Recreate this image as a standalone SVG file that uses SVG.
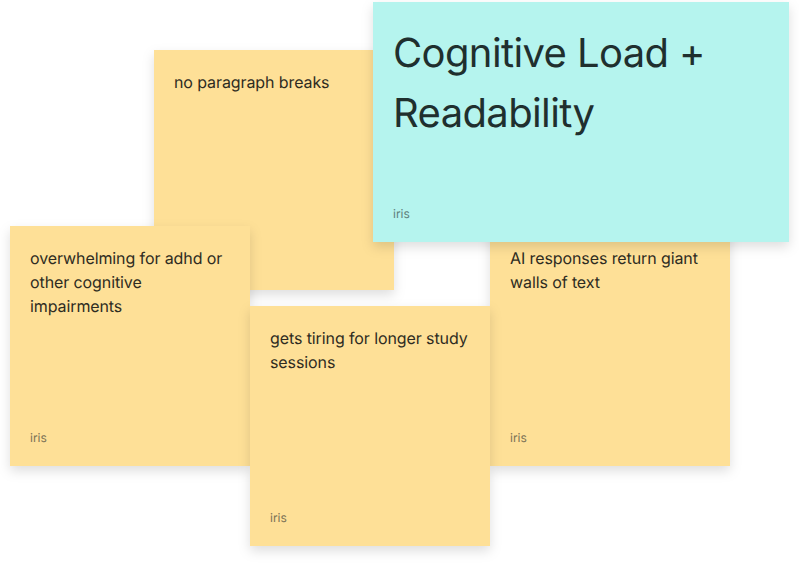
<svg xmlns="http://www.w3.org/2000/svg" width="799" height="564" viewBox="0 0 799 564">
<defs><filter id="sh" x="-10%" y="-10%" width="120%" height="125%" color-interpolation-filters="sRGB"><feDropShadow dx="0" dy="5" stdDeviation="6" flood-color="#000" flood-opacity="0.13"/></filter></defs>
<style>
.y{fill:#fee097;filter:url(#sh)}
.c{fill:#b5f4ee;filter:url(#sh)}
text{font-family:Inter,"Liberation Sans",sans-serif;text-rendering:geometricPrecision}
.b{font-size:16px;fill:#2e2c22;letter-spacing:-0.1px}
.a{font-size:12px;fill:#7a7256}
.t{font-size:40px;fill:#1f2f2e;letter-spacing:-0.62px}
</style>
<rect width="799" height="564" fill="#fff"/>
<g id="note-paragraph"><rect class="y" x="154" y="50" width="240" height="240"/><text class="b" x="174" y="88">no paragraph breaks</text></g>
<g id="note-walls"><rect class="y" x="490" y="226" width="240" height="240"/><text class="b" x="510" y="264">AI responses return giant</text><text class="b" x="510" y="288">walls of text</text><text class="a" x="510" y="442">iris</text></g>
<g id="note-title"><rect class="c" x="373" y="2" width="416" height="240"/><text class="t" x="393" y="67">Cognitive Load +</text><text class="t" x="393" y="127">Readability</text><text x="393" y="218" font-size="12" fill="#5f7f7c">iris</text></g>
<g id="note-adhd"><rect class="y" x="10" y="226" width="240" height="240"/><text class="b" x="30" y="264">overwhelming for adhd or</text><text class="b" x="30" y="288">other cognitive</text><text class="b" x="30" y="312">impairments</text><text class="a" x="30" y="442">iris</text></g>
<g id="note-tiring"><rect class="y" x="250" y="306" width="240" height="240"/><text class="b" x="270" y="344">gets tiring for longer study</text><text class="b" x="270" y="368">sessions</text><text class="a" x="270" y="522">iris</text></g>
<g id="connectors"/>
</svg>
